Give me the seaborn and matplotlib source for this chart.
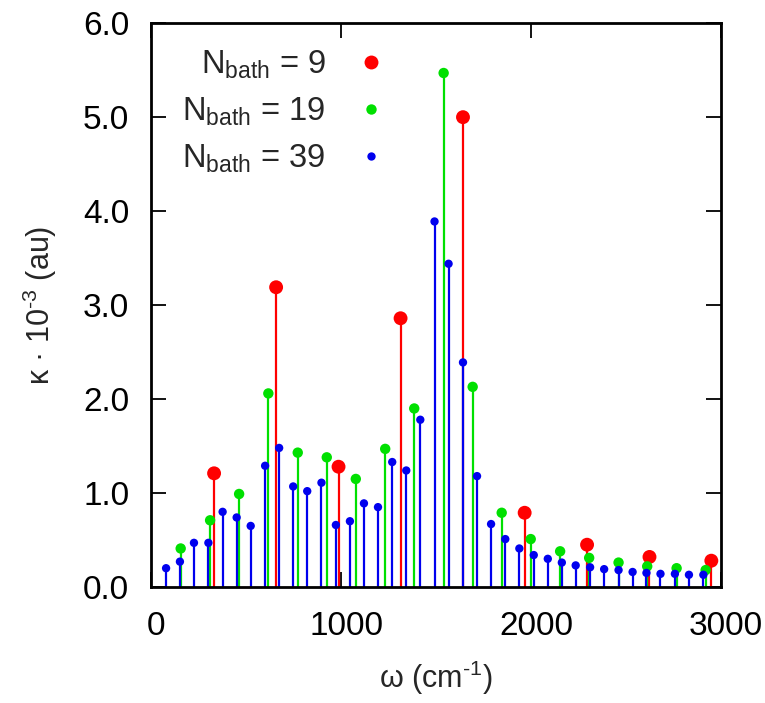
import numpy as np
import pandas as pd
import matplotlib
matplotlib.use("Agg")
import matplotlib.pyplot as plt
import matplotlib.transforms as mtransforms
import seaborn as sns
from matplotlib.lines import Line2D

# ---- data ----
omega_n9 = [330, 657, 986, 1313, 1642, 1967, 2296, 2625, 2951]
kappa_n9 = [1.21, 3.19, 1.28, 2.86, 5.00, 0.79, 0.45, 0.32, 0.28]

omega_n19 = [154, 309, 462, 616, 771, 924, 1077, 1232, 1385, 1540,
             1693, 1846, 1999, 2154, 2307, 2462, 2613, 2768, 2921]
kappa_n19 = [0.41, 0.71, 0.99, 2.06, 1.43, 1.38, 1.15, 1.47, 1.90, 5.47,
             2.13, 0.79, 0.51, 0.38, 0.31, 0.26, 0.22, 0.20, 0.18]

omega_n39 = [77, 150, 224, 300, 375, 449, 523, 599, 673, 747,
             821, 896, 972, 1046, 1120, 1194, 1269, 1343, 1417, 1492,
             1566, 1642, 1716, 1790, 1865, 1939, 2015, 2089, 2163, 2236,
             2312, 2386, 2462, 2536, 2609, 2683, 2759, 2833, 2909]
kappa_n39 = [0.20, 0.27, 0.47, 0.47, 0.80, 0.74, 0.65, 1.29, 1.48, 1.07,
             1.02, 1.11, 0.66, 0.70, 0.89, 0.85, 1.33, 1.24, 1.78, 3.89,
             3.44, 2.39, 1.18, 0.67, 0.51, 0.41, 0.34, 0.30, 0.26, 0.23,
             0.21, 0.19, 0.18, 0.16, 0.15, 0.14, 0.14, 0.13, 0.13]

labels = [r"N$_{\mathrm{bath}}$ = 9", r"N$_{\mathrm{bath}}$ = 19", r"N$_{\mathrm{bath}}$ = 39"]
colors = ["#ff0000", "#00e000", "#0000ee"]
sizes = [100, 56, 36]

x_ticks = [0, 1000, 2000, 3000]
y_ticks = [0.0, 1.0, 2.0, 3.0, 4.0, 5.0, 6.0]
y_ticklabels = ["0.0", "1.0", "2.0", "3.0", "4.0", "5.0", "6.0"]

frames = []
for lab, om, ka in zip(labels, [omega_n9, omega_n19, omega_n39], [kappa_n9, kappa_n19, kappa_n39]):
    frames.append(pd.DataFrame({"omega": om, "kappa": ka, "series": lab}))
df = pd.concat(frames, ignore_index=True)

# ---- style ----
sns.set_theme(style="ticks")
plt.rcParams["font.family"] = ["Liberation Sans", "DejaVu Sans"]
plt.rcParams["mathtext.fontset"] = "custom"
plt.rcParams["mathtext.rm"] = "Liberation Sans"
plt.rcParams["mathtext.it"] = "Liberation Sans:italic"
plt.rcParams["mathtext.bf"] = "Liberation Sans:bold"
plt.rcParams["xtick.bottom"] = True
plt.rcParams["xtick.top"] = True
plt.rcParams["ytick.left"] = True
plt.rcParams["ytick.right"] = True

fig = plt.figure(figsize=(7.65, 7.03), dpi=100)
ax = fig.add_axes([0.198, 0.165, 0.744, 0.802])

for lab, col, sz in zip(labels, colors, sizes):
    sub = df[df["series"] == lab]
    ax.vlines(sub["omega"], 0, sub["kappa"], colors=col, linewidth=1.6, zorder=2)
    sns.scatterplot(data=sub, x="omega", y="kappa", color=col, s=sz,
                    edgecolor="none", linewidth=0, ax=ax, zorder=3, legend=False)

ax.set_xlim(0, 3000)
ax.set_ylim(0, 6.0)
ax.set_xticks(x_ticks)
ax.set_yticks(y_ticks)
ax.set_yticklabels(y_ticklabels)
ax.xaxis.set_ticks_position("both")
ax.yaxis.set_ticks_position("both")
ax.tick_params(axis="both", which="major", direction="in", length=11, width=1.3,
               labelsize=24, top=True, right=True, bottom=True, left=True,
               color="black", labelcolor="black")
ax.tick_params(axis="y", pad=16)
ax.tick_params(axis="x", pad=17)
for sp in ax.spines.values():
    sp.set_linewidth(2.0)
    sp.set_color("black")
    sp.set_zorder(5)

# gnuplot-style small rightward offset of the x tick labels
offset = mtransforms.ScaledTranslation(5 / 100, 0, fig.dpi_scale_trans)
for lbl in ax.get_xticklabels():
    lbl.set_transform(lbl.get_transform() + offset)

ax.set_xlabel(r"ω (cm$^{\text{-1}}$)", fontsize=22, labelpad=12)
ax.set_ylabel(r"κ · 10$^{\text{-3}}$ (au)", fontsize=22, labelpad=17)

handles = [Line2D([0], [0], marker="o", linestyle="none", color=c,
                  markersize=np.sqrt(s), markeredgewidth=0) for c, s in zip(colors, sizes)]
leg = ax.legend(handles, labels, loc="upper left", bbox_to_anchor=(0.02, 0.99),
                frameon=False, markerfirst=False, fontsize=23.5, handletextpad=0.4,
                labelspacing=0.45, borderaxespad=0.2)
for t in leg.get_texts():
    t.set_ha("right")
leg._legend_box.align = "right"

fig.savefig("out.png", dpi=100)
